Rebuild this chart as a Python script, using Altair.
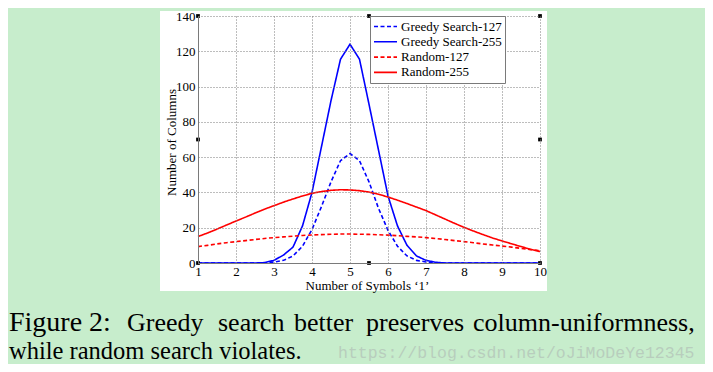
import altair as alt
import pandas as pd

# ---- data ----
x_vals = [1.0, 1.25, 1.5, 1.75, 2.0, 2.25, 2.5, 2.75, 3.0, 3.25, 3.5, 3.75,
          4.0, 4.25, 4.5, 4.75, 5.0, 5.25, 5.5, 5.75, 6.0, 6.25, 6.5, 6.75,
          7.0, 7.25, 7.5, 7.75, 8.0, 8.25, 8.5, 8.75, 9.0, 9.25, 9.5, 9.75, 10.0]

greedy_127 = [0, 0, 0, 0, 0, 0, 0, 0, 0.5, 1.5, 4, 9.5,
              19, 32, 46, 58, 62, 58, 46, 31, 18.5, 9.5, 4, 1.5,
              0.6, 0.1, 0, 0, 0, 0, 0, 0, 0, 0, 0, 0, 0]
greedy_255 = [0, 0, 0, 0, 0, 0, 0, 0.2, 1.5, 4.5, 9, 21,
              40, 66, 92, 115.5, 124, 115.5, 90, 64, 38, 21, 10, 4,
              1.5, 0.4, 0, 0, 0, 0, 0, 0, 0, 0, 0, 0, 0]
random_127 = [9.3, 10, 10.8, 11.5, 12.1, 12.7, 13.3, 13.9, 14.4, 14.8, 15.2, 15.6,
              15.9, 16.1, 16.3, 16.4, 16.4, 16.3, 16.2, 16.0, 15.8, 15.5, 15.1, 14.8,
              14.4, 13.9, 13.3, 12.7, 12.1, 11.5, 10.8, 10.2, 9.6, 9.0, 8.3, 7.6, 7.0]
random_255 = [15, 17, 19.2, 21.5, 23.8, 26, 28.3, 30.5, 32.5, 34.5, 36.3, 38,
              39.5, 40.5, 41.2, 41.5, 41.4, 41, 40.2, 39, 37.4, 35.6, 33.7, 31.7,
              29.7, 27.3, 24.9, 22.5, 20.2, 18.1, 16.1, 14.2, 12.5, 10.9, 9.3, 7.8, 6.5]

series_names = ["Greedy Search-127", "Greedy Search-255", "Random-127", "Random-255"]
series_colors = ["#0000ff", "#0000ff", "#ff0000", "#ff0000"]
series_dashes = [[4, 2.5], [1, 0], [4, 2.5], [1, 0]]

x_ticks = [1, 2, 3, 4, 5, 6, 7, 8, 9, 10]
y_ticks = [0, 20, 40, 60, 80, 100, 120, 140]

handle_x = [1, 5.5, 10, 1, 10, 1, 5.5, 10]
handle_y = [140, 140, 140, 70, 70, 0, 0, 0]

rows = []
for name, vals in zip(series_names, [greedy_127, greedy_255, random_127, random_255]):
    for xv, yv in zip(x_vals, vals):
        rows.append({"x": xv, "v": yv, "series": name})
df = pd.DataFrame(rows)
hdf = pd.DataFrame({"x": handle_x, "v": handle_y})
one = pd.DataFrame({"a": [0]})

SERIF = "Liberation Serif, Tinos, Times New Roman, Times, DejaVu Serif, serif"
MONO = "Liberation Mono, DejaVu Sans Mono, monospace"
W, H = 342, 247

xscale = alt.Scale(domain=[1, 10], nice=False, zero=False)
yscale = alt.Scale(domain=[0, 140], nice=False, zero=False)

leg = alt.Legend(title=None, orient="none", legendX=172, legendY=0,
                 fillColor="white", strokeColor="#7a7a7a", padding=3,
                 symbolType="stroke", symbolSize=529, symbolStrokeWidth=1.6,
                 clipHeight=15, rowPadding=0.3,
                 labelFont=SERIF, labelFontSize=13, labelColor="black",
                 labelOffset=3, zindex=2)

axis_common = dict(grid=True, gridDash=[1, 2], gridColor="#7a7a7a", gridOpacity=1,
                   domainColor="#7a7a7a", ticks=False, labelPadding=2,
                   labelOverlap=False, labelFlush=False, labelBound=False,
                   labelFont=SERIF, labelFontSize=13, labelColor="black",
                   titleFont=SERIF, titleFontSize=13, titleFontWeight="normal",
                   titleColor="black", zindex=1)

x_axis = alt.Axis(values=x_ticks, title="Number of Symbols \u20181\u2019",
                  titleX=169, titleY=26.5, titleBaseline="alphabetic", **axis_common)
y_axis = alt.Axis(values=y_ticks, title="Number of Columns",
                  titleX=-27, titleY=126, titleAngle=270, titleBaseline="middle",
                  **dict(axis_common, labelPadding=3))

panel = alt.Chart(one).mark_rect(color="white").encode(
    x=alt.value(-38), x2=alt.value(349), y=alt.value(-5), y2=alt.value(275))

lines = alt.Chart(df).mark_line(strokeWidth=1.6).encode(
    x=alt.X("x:Q", scale=xscale, axis=x_axis),
    y=alt.Y("v:Q", scale=yscale, axis=y_axis),
    color=alt.Color("series:N", scale=alt.Scale(domain=series_names, range=series_colors), legend=leg),
    strokeDash=alt.StrokeDash("series:N", scale=alt.Scale(domain=series_names, range=series_dashes), legend=leg),
    order=alt.Order("x:Q"),
)

handles = alt.Chart(hdf).mark_point(shape="square", filled=True, size=14, color="black", opacity=1).encode(
    x=alt.X("x:Q", scale=xscale, axis=x_axis), y=alt.Y("v:Q", scale=yscale, axis=y_axis))


def txt(s, x, y, size, color="black", font=SERIF):
    return alt.Chart(one).mark_text(align="left", baseline="alphabetic", font=font,
                                    fontSize=size, color=color).encode(
        x=alt.value(x), y=alt.value(y), text=alt.value(s))


caption = [
    txt("Figure 2:", -189, 314.5, 28),
    txt("Greedy", -71, 314.5, 26),
    txt("search", 20, 314.5, 26),
    txt("better", 96, 314.5, 26),
    txt("preserves", 168, 314.5, 26),
    txt("column-uniformness,", 275, 314.5, 26),
    txt("while random search violates.", -189, 342.5, 24.5),
    txt("https://blog.csdn.net/oJiMoDeYe12345", 140, 342, 16.5, color="#b8cdbd", font=MONO),
]

chart = alt.layer(panel, lines, handles, *caption).properties(
    width=W, height=H,
    padding={"left": 190, "top": 8, "right": 165, "bottom": 101},
    autosize=alt.AutoSizeParams(type="none"),
    background="#c7edcc",
).configure_view(stroke=None).configure(font=SERIF)

chart.save("out.html", embed_options={"renderer": "svg", "actions": False})
